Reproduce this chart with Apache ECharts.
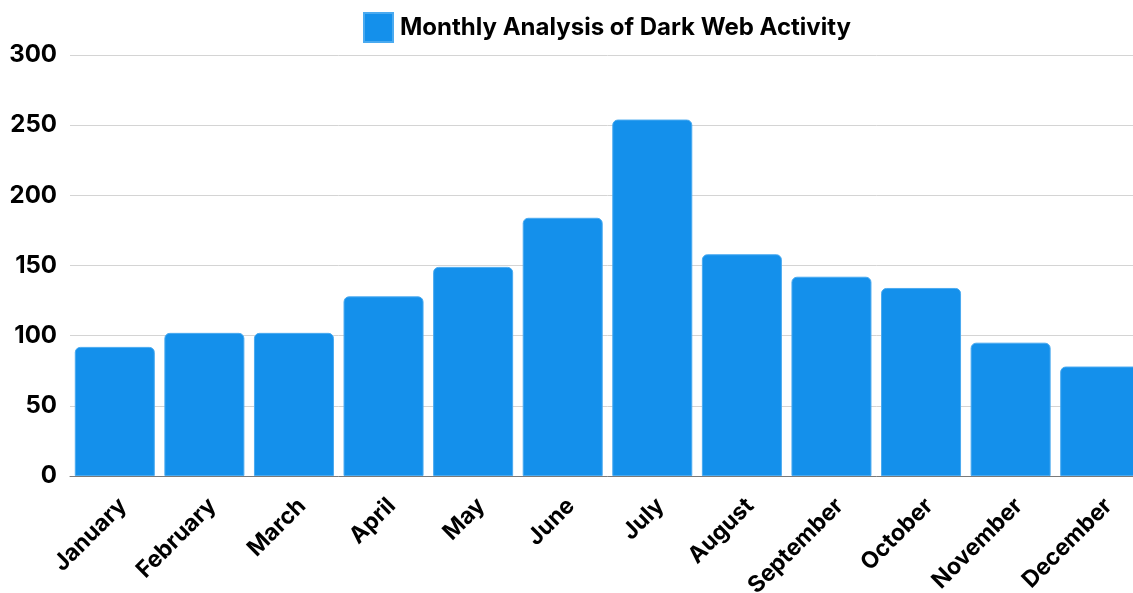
<!DOCTYPE html>
<html>
<head>
<meta charset="utf-8">
<script src="https://cdn.jsdelivr.net/npm/echarts@6/dist/echarts.min.js"></script>
<style>
  html, body { margin: 0; padding: 0; background: #fff; overflow: hidden; }
  /* canvas is slightly wider than the window so the last bar runs off the edge */
  #chart { width: 1145px; height: 593px; }
</style>
</head>
<body>
<div id="chart"></div>
<script>
// Monthly counts of observed dark web activity
const months = ['January', 'February', 'March', 'April', 'May', 'June',
                'July', 'August', 'September', 'October', 'November', 'December'];
const activity = [92, 102, 102, 128, 149, 184, 254, 158, 142, 134, 95, 78];
const seriesName = 'Monthly Analysis of Dark Web Activity';
const yTicks = { min: 0, max: 300, step: 50 };

const FONT = 'Inter, "Noto Sans", sans-serif';
const chart = echarts.init(document.getElementById('chart'), null, { renderer: 'canvas' });

chart.setOption({
  animation: false,
  backgroundColor: '#ffffff',
  legend: {
    left: 363,
    top: 12,
    padding: 0,
    itemWidth: 29,
    itemHeight: 29,
    itemGap: 8,
    icon: 'rect',
    textStyle: { fontFamily: FONT, fontWeight: 'bold', fontSize: 24, color: '#000', padding: [0, 0, 0, 2] },
    data: [seriesName]
  },
  grid: { left: 70, top: 55, right: 0, bottom: 117, containLabel: false, outerBoundsMode: 'none' },
  xAxis: {
    type: 'category',
    data: months,
    axisTick: { show: false },
    axisLine: { show: true, lineStyle: { color: '#7a7a7a', width: 1 } },
    axisLabel: {
      interval: 0,
      rotate: 45,
      margin: 18,
      verticalAlign: 'top',
      fontFamily: FONT,
      fontWeight: 'bold',
      fontSize: 23,
      color: '#000'
    }
  },
  yAxis: {
    type: 'value',
    min: yTicks.min,
    max: yTicks.max,
    interval: yTicks.step,
    axisLine: { show: false },
    axisTick: { show: false },
    splitLine: { lineStyle: { color: '#d4d4d4', width: 1 } },
    axisLabel: {
      margin: 13,
      fontFamily: FONT,
      fontWeight: 'bold',
      fontSize: 24,
      color: '#000'
    }
  },
  series: [{
    name: seriesName,
    type: 'bar',
    data: activity,
    barWidth: 80,
    itemStyle: {
      color: '#1490eb',
      borderRadius: [5, 5, 0, 0],
      borderColor: '#4aaaf0',
      borderWidth: 1
    }
  }]
});
</script>
</body>
</html>
